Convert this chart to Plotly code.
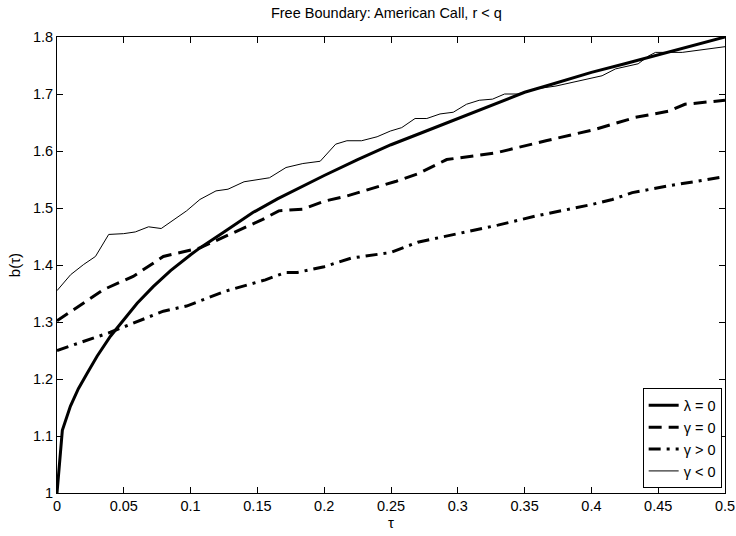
import plotly.graph_objects as go

# lambda = 0 (thick solid)
tau_lam = [0, 0.004, 0.01, 0.016, 0.0226, 0.03, 0.04, 0.05, 0.06, 0.072, 0.085, 0.1, 0.107, 0.125,
           0.1466, 0.165, 0.18, 0.2, 0.225, 0.25, 0.273, 0.3, 0.325, 0.35, 0.366, 0.4, 0.425, 0.45,
           0.475, 0.5]
b_lam = [1.0, 1.11, 1.152, 1.183, 1.21, 1.24, 1.275, 1.305, 1.333, 1.362, 1.39, 1.418, 1.43, 1.458,
         1.492, 1.516, 1.534, 1.557, 1.585, 1.611, 1.632, 1.657, 1.681, 1.703, 1.714, 1.738, 1.753,
         1.769, 1.785, 1.8]

# gamma = 0 (dashed)
tau_g0 = [0, 0.035, 0.057, 0.0796, 0.107, 0.132, 0.154, 0.166, 0.184, 0.2, 0.217, 0.254, 0.27, 0.2917,
          0.329, 0.366, 0.403, 0.433, 0.458, 0.47, 0.5]
b_g0 = [1.302, 1.357, 1.38, 1.415, 1.43, 1.457, 1.48, 1.495, 1.498, 1.512, 1.521, 1.547, 1.56, 1.585,
        1.597, 1.618, 1.638, 1.659, 1.67, 1.682, 1.689]

# gamma > 0 (dash-dot)
tau_gp = [0.0, 0.04, 0.0796, 0.097, 0.126, 0.156, 0.171, 0.18, 0.2, 0.22, 0.25, 0.27, 0.3, 0.33,
          0.3586, 0.4, 0.4157, 0.4306, 0.458, 0.478, 0.5]
b_gp = [1.25, 1.282, 1.319, 1.328, 1.354, 1.374, 1.387, 1.387, 1.397, 1.412, 1.422, 1.44, 1.455, 1.47,
        1.486, 1.506, 1.515, 1.527, 1.539, 1.546, 1.555]

# gamma < 0 (thin solid)
tau_gn = [0, 0.0102, 0.02, 0.0288, 0.0387, 0.0499, 0.0586, 0.0685, 0.078, 0.097, 0.107, 0.119, 0.128,
          0.14, 0.159, 0.1714, 0.184, 0.197, 0.2086, 0.217, 0.228, 0.2396, 0.2495, 0.258, 0.268, 0.2768,
          0.2867, 0.2966, 0.3065, 0.316, 0.326, 0.335, 0.345, 0.3586, 0.3735, 0.39, 0.408, 0.418, 0.435,
          0.443, 0.448, 0.468, 0.478, 0.495, 0.5]
b_gn = [1.355, 1.383, 1.401, 1.415, 1.4536, 1.455, 1.458, 1.467, 1.464, 1.495, 1.515, 1.53, 1.533,
        1.546, 1.553, 1.571, 1.578, 1.582, 1.612, 1.618, 1.618, 1.625, 1.635, 1.641, 1.657, 1.657,
        1.665, 1.668, 1.682, 1.689, 1.691, 1.7, 1.7, 1.709, 1.714, 1.722, 1.732, 1.744, 1.753,
        1.767, 1.773, 1.773, 1.776, 1.782, 1.783]

x_ticks = [0, 0.05, 0.1, 0.15, 0.2, 0.25, 0.3, 0.35, 0.4, 0.45, 0.5]
x_ticktext = ["0", "0.05", "0.1", "0.15", "0.2", "0.25", "0.3", "0.35", "0.4", "0.45", "0.5"]
y_ticks = [1, 1.1, 1.2, 1.3, 1.4, 1.5, 1.6, 1.7, 1.8]
y_ticktext = ["1", "1.1", "1.2", "1.3", "1.4", "1.5", "1.6", "1.7", "1.8"]

FONT = "Liberation Sans, Arial, sans-serif"

fig = go.Figure()
fig.add_trace(go.Scatter(x=tau_lam, y=b_lam, mode="lines", name="λ = 0",
                         line=dict(color="black", width=3)))
fig.add_trace(go.Scatter(x=tau_g0, y=b_g0, mode="lines", name="γ = 0",
                         line=dict(color="black", width=3, dash="13px,7px")))
fig.add_trace(go.Scatter(x=tau_gp, y=b_gp, mode="lines", name="γ > 0",
                         line=dict(color="black", width=3, dash="12px,6px,3px,6px")))
fig.add_trace(go.Scatter(x=tau_gn, y=b_gn, mode="lines", name="γ < 0",
                         line=dict(color="black", width=1)))

axis_common = dict(showgrid=False, zeroline=False, showline=True, linecolor="black", linewidth=1,
                   mirror="ticks", ticks="inside", ticklen=6, tickcolor="black", tickwidth=1,
                   ticklabeloverflow="allow", automargin=False,
                   tickfont=dict(family=FONT, size=14.5, color="black"))

fig.update_layout(
    width=736, height=536,
    margin=dict(l=57, r=11, t=37, b=43, autoexpand=False),
    paper_bgcolor="white", plot_bgcolor="white",
    font=dict(family=FONT, size=14.5, color="black"),
    title=dict(text="Free Boundary: American Call, r < q", x=0.525, xanchor="center",
               y=1 - 13 / 536, yanchor="middle", font=dict(family=FONT, size=14.5, color="black")),
    showlegend=True,
    legend=dict(x=0.995, y=0.01, xanchor="right", yanchor="bottom",
                bgcolor="white", bordercolor="black", borderwidth=1,
                font=dict(family=FONT, size=14.5, color="black"),
                itemwidth=30, tracegroupgap=0),
)
fig.update_xaxes(range=[0, 0.5], tickvals=x_ticks, ticktext=x_ticktext,
                 title=dict(text="τ", standoff=4, font=dict(family=FONT, size=15)), **axis_common)
fig.update_yaxes(range=[1, 1.8], tickvals=y_ticks, ticktext=y_ticktext,
                 title=dict(text="b(τ)", standoff=8, font=dict(family=FONT, size=15)), **axis_common)

fig.write_html("out.html")
